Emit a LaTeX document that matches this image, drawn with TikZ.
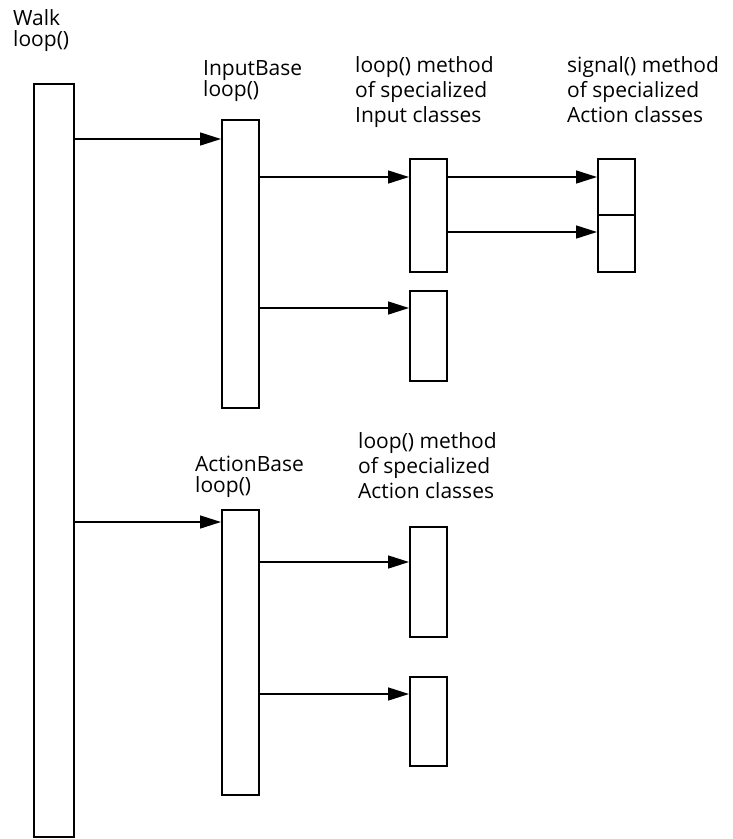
\documentclass[tikz,border=0pt]{standalone}
\usepackage{fontspec}
\setmainfont{Open Sans}
\usetikzlibrary{arrows.meta}

\begin{document}
\begin{tikzpicture}[x=1pt, y=-1pt,
  bar/.style={draw, line width=1.6pt, anchor=north west, inner sep=0pt,
              minimum width=37pt},
  flow/.style={line width=1.5pt, -{Triangle[length=21pt, width=13pt]}},
  lbl/.style={font=\fontsize{21}{21}\selectfont, align=left,
              anchor=base west, inner sep=0pt},
  lblwide/.style={lbl, font=\fontsize{21}{25}\selectfont},
]
\useasboundingbox (0,0) rectangle (733,839);

% boxes
\node[bar, minimum width=40pt, minimum height=753pt] (walk) at (33,83) {};
\node[bar, minimum height=288pt] (inbase) at (221,119) {};
\node[bar, minimum height=113pt] (inA) at (409,158) {};
\node[bar, minimum height=90pt] (inB) at (409,290) {};
\node[bar, minimum height=56pt] (sigA) at (597,158) {};
\node[bar, minimum height=57pt] (sigB) at (597,214) {};
\node[bar, minimum height=285pt] (actbase) at (221,509) {};
\node[bar, minimum height=110pt] (actA) at (409,526) {};
\node[bar, minimum height=89pt] (actB) at (409,676) {};

% labels (anchored at the baseline of the last line)
\node[lbl] (walklbl) at (13,46) {Walk\\loop()};
\node[lbl] (inbaselbl) at (203,96) {InputBase\\loop()};
\node[lblwide] (inlbl) at (355,122) {loop() method\\of specialized\\Input classes};
\node[lblwide] (siglbl) at (567,122) {signal() method\\of specialized\\Action classes};
\node[lbl] (actbaselbl) at (195,492) {ActionBase\\loop()};
\node[lblwide] (actlbl) at (358,498) {loop() method\\of specialized\\Action classes};

% calls
\foreach \a/\b/\y in {walk/inbase/139, inbase/inA/177, inbase/inB/308,
                      inA/sigA/177, inA/sigB/232, walk/actbase/522,
                      actbase/actA/562, actbase/actB/694} {
  \draw[flow] (\a.east |- 0,\y) -- (\b.west |- 0,\y);
}
\end{tikzpicture}
\end{document}
